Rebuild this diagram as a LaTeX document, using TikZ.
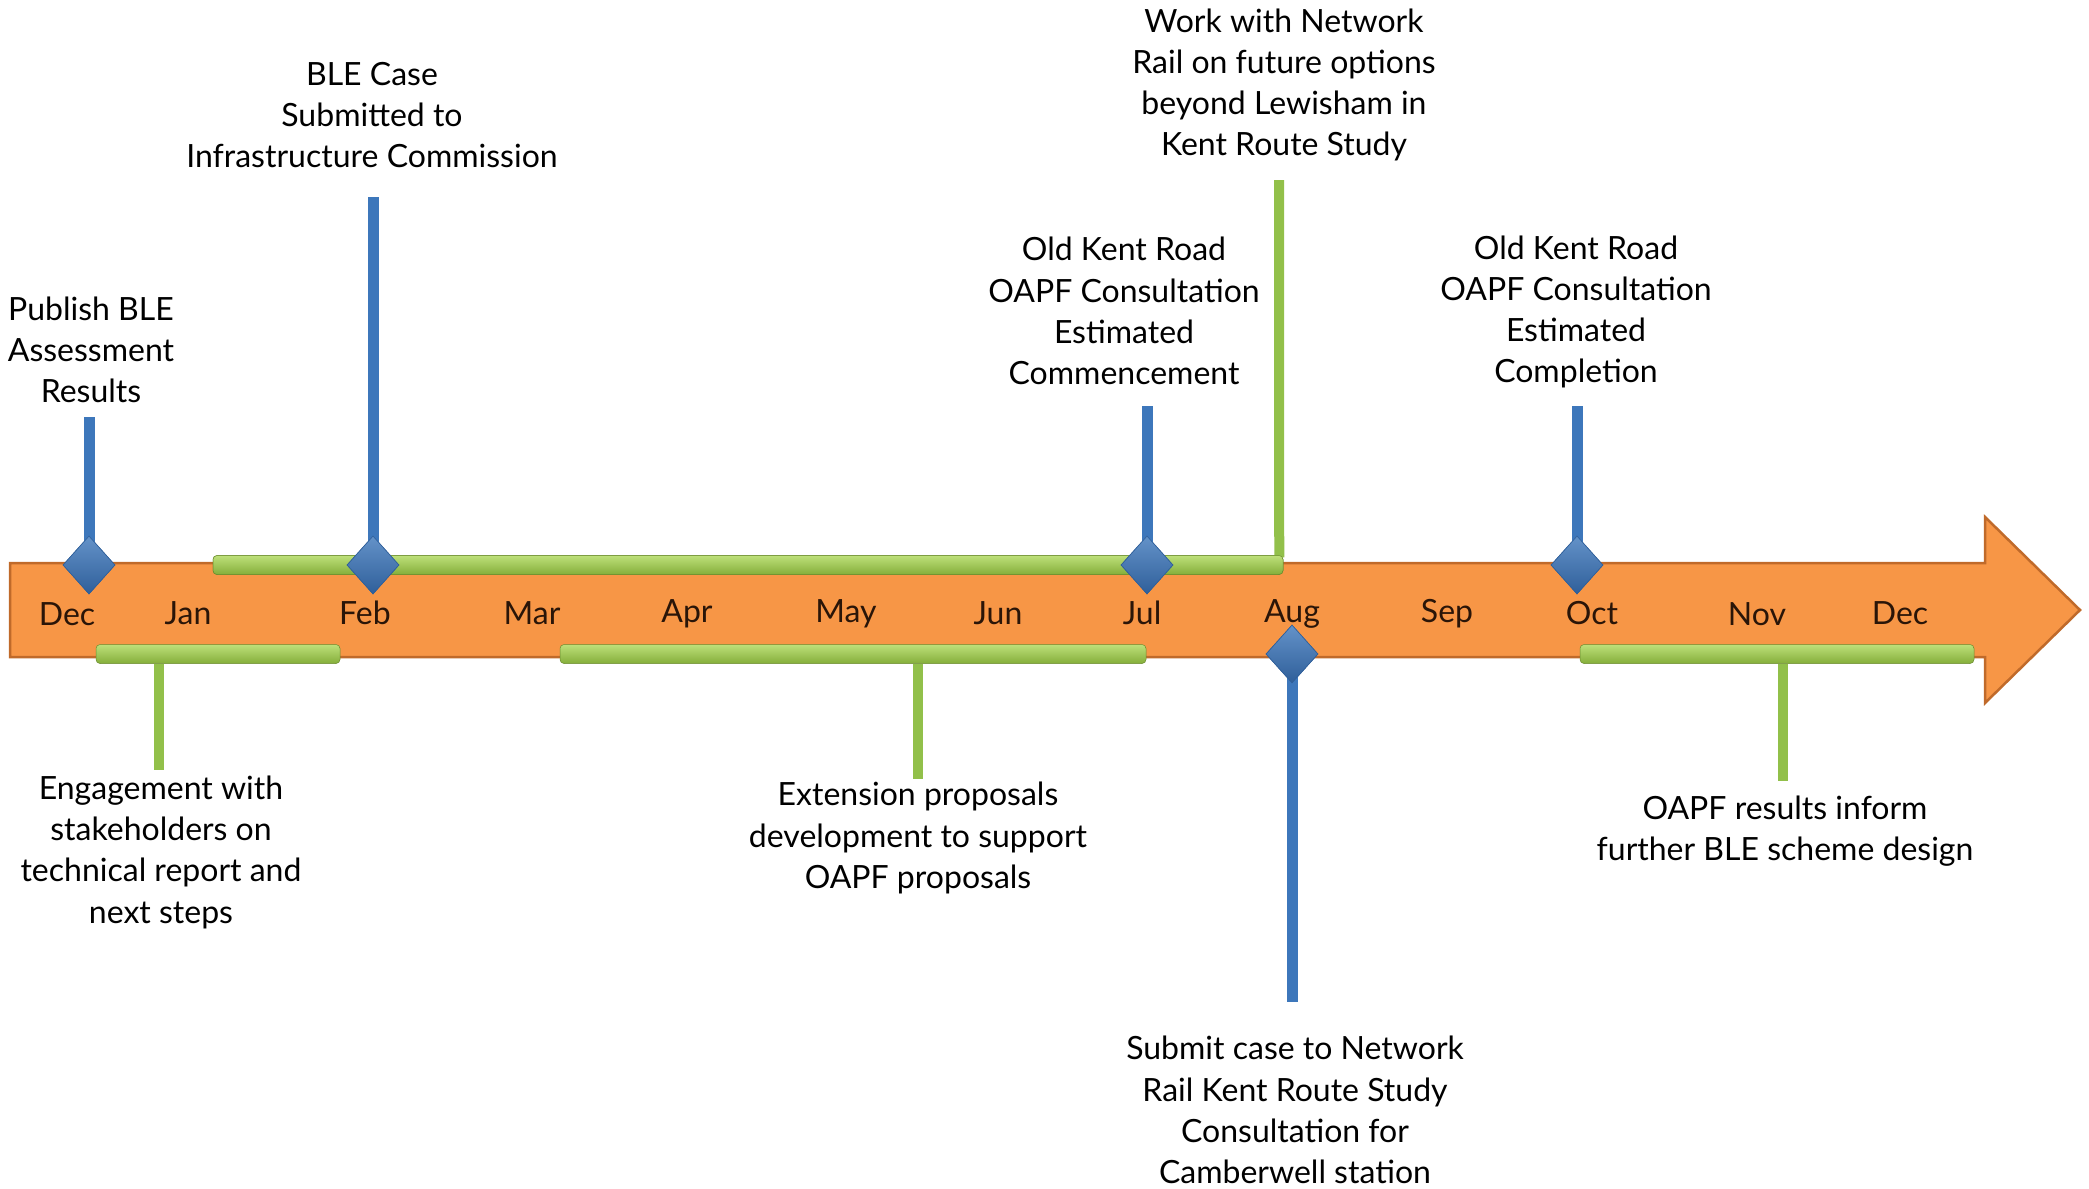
\documentclass[tikz,border=0pt]{standalone}
\usepackage{fontspec}
\setmainfont{Lato}
\usetikzlibrary{shapes.geometric}
\definecolor{arrowfill}{HTML}{F79646}
\definecolor{arrowline}{HTML}{C06A2A}
\definecolor{bluefill}{HTML}{3D77BB}
\definecolor{bluedark}{HTML}{2F5F9A}
\definecolor{greenlight}{HTML}{BEE07A}
\definecolor{greendark}{HTML}{84AE3A}
\definecolor{greenstem}{HTML}{92C04A}
\definecolor{montext}{HTML}{2A1508}
\tikzset{
  lbl/.style={align=center, font=\fontsize{32}{41.3}\selectfont, text=black, inner sep=0pt},
  mon/.style={font=\fontsize{32}{36}\selectfont, inner sep=0pt, text=montext},
  gem/.style={diamond, minimum width=52pt, minimum height=58pt, inner sep=0pt, top color=bluefill!80!white, bottom color=bluedark, draw=bluedark, line width=0.6pt},
  gbar/.style={rectangle, rounded corners=4pt, inner sep=0pt, minimum height=19pt, top color=greenlight, bottom color=greendark, draw=greendark!80!black, line width=0.5pt},
  bstem/.style={draw=bluefill, line width=11pt},
  gstem/.style={draw=greenstem, line width=10pt}
}
\begin{document}
\begin{tikzpicture}[x=1pt,y=-1pt]
\useasboundingbox (0,0) rectangle (2089,1189);
\fill[white] (0,0) rectangle (2089,1189);
% orange arrow
\draw[fill=arrowfill, draw=arrowline, line width=2.5pt, line join=miter]
  (10,563) -- (1985,563) -- (1985,517) -- (2080,610) -- (1985,703) -- (1985,657) -- (10,657) -- cycle;
% month labels
\node[mon] (m1) at (67,614) {Dec};
\node[mon] (m2) at (188,613) {Jan};
\node[mon] (m3) at (365,613) {Feb};
\node[mon] (m4) at (532,613) {Mar};
\node[mon] (m5) at (687,614) {Apr};
\node[mon] (m6) at (846,614) {May};
\node[mon] (m7) at (998,613) {Jun};
\node[mon] (m8) at (1142,613) {Jul};
\node[mon] (m9) at (1292,614) {Aug};
\node[mon] (m10) at (1447,614) {Sep};
\node[mon] (m11) at (1592,613) {Oct};
\node[mon] (m12) at (1757,614) {Nov};
\node[mon] (m13) at (1900,613) {Dec};
% text labels
\node[lbl] (tPub) at (91,350) {Publish BLE\\Assessment\\Results};
\node[lbl] (tBLE) at (372,115) {BLE Case\\Submitted to\\Infrastructure Commission};
\node[lbl] (tWork) at (1284,85) {Work with Network\\Rail on future options\\beyond Lewisham in\\Kent Route Study};
\node[lbl] (tOKR1) at (1124,311) {Old Kent Road\\OAPF Consultation\\Estimated\\Commencement};
\node[lbl] (tOKR2) at (1576,312) {Old Kent Road\\OAPF Consultation\\Estimated\\Completion};
\node[lbl] (tEng) at (161,852) {Engagement with\\stakeholders on\\technical report and\\next steps};
\node[lbl] (tExt) at (918,838) {Extension proposals\\development to support\\OAPF proposals};
\node[lbl] (tRes) at (1785,831) {OAPF results inform\\further BLE scheme design};
\node[lbl] (tSub) at (1295,1110) {Submit case to Network\\Rail Kent Route Study\\Consultation for\\Camberwell station};
% green stem end coordinates
\coordinate (gWorkTop) at (1279,180);
\coordinate (gEngEnd) at (159,770);
\coordinate (gExtEnd) at (918,779);
\coordinate (gResEnd) at (1783,781);
% green bars
\node[gbar, minimum width=1070pt] (barTop) at (748,565) {};
\node[gbar, minimum width=244pt] (barJan) at (218,654) {};
\node[gbar, minimum width=586pt] (barApr) at (853,654) {};
\node[gbar, minimum width=394pt] (barOct) at (1777,654) {};
% green stems
\draw[gstem] (barTop.north east) ++(-4,2) coordinate (gWorkBase) -- (gWorkTop);
\draw[gstem] (barJan.south -| gEngEnd) -- (gEngEnd);
\draw[gstem] (barApr.south -| gExtEnd) -- (gExtEnd);
\draw[gstem] (barOct.south -| gResEnd) -- (gResEnd);
\node[gbar, minimum width=1070pt] at (barTop) {};
% blue diamonds and stems
\coordinate (bPubTop) at (89,417);
\coordinate (bBLETop) at (373,197);
\coordinate (bJulTop) at (1147,406);
\coordinate (bOctTop) at (1577,406);
\coordinate (bAugEnd) at (1292,1002);
\node[gem] (dDec) at (89,565) {};
\node[gem] (dFeb) at (373,565) {};
\node[gem] (dJul) at (1147,565) {};
\node[gem] (dOct) at (1577,565) {};
\node[gem] (dAug) at (1292,654) {};
\draw[bstem] (dDec.center) -- (bPubTop);
\draw[bstem] (dFeb.center) -- (bBLETop);
\draw[bstem] (dJul.center) -- (bJulTop);
\draw[bstem] (dOct.center) -- (bOctTop);
\draw[bstem] (dAug.center) -- (bAugEnd);
\node[gem] at (dDec) {};
\node[gem] at (dFeb) {};
\node[gem] at (dJul) {};
\node[gem] at (dOct) {};
\node[gem] at (dAug) {};
\end{tikzpicture}
\end{document}
